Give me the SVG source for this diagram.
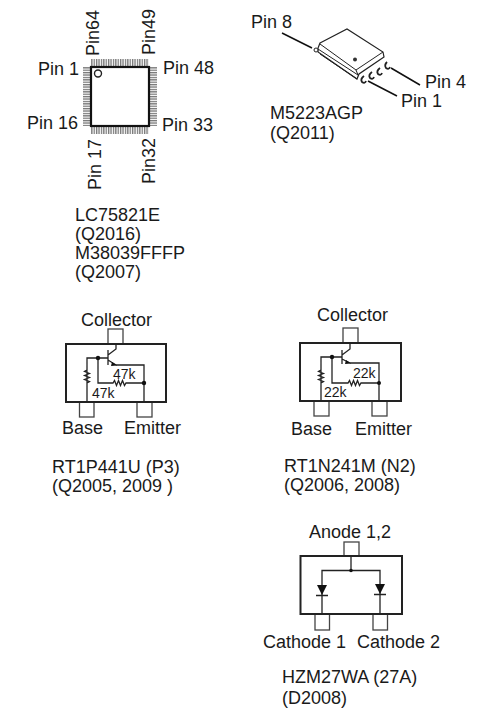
<svg xmlns="http://www.w3.org/2000/svg" width="493" height="711" viewBox="0 0 493 711">
<style>
text{font-family:"Liberation Sans",Arial,sans-serif;font-size:18px;fill:#1a1a1a}
.s{font-size:14px}
.b{fill:#fff;stroke:#222;stroke-width:2}
.p{fill:#fff;stroke:#444;stroke-width:1.3}
.w{fill:none;stroke:#222;stroke-width:1.3}
.d{fill:#111}
.l{fill:none;stroke:#111;stroke-width:1.5}
</style>
<defs>
<pattern id="pv" width="2.4" height="8" patternUnits="userSpaceOnUse"><rect width="1.3" height="8" fill="#777"/></pattern>
<pattern id="ph" width="8" height="2.4" patternUnits="userSpaceOnUse"><rect width="8" height="1.3" fill="#777"/></pattern>
</defs>
<g id="qfp">
<rect x="91" y="59" width="58" height="8" fill="url(#pv)"/>
<rect x="91" y="126" width="58" height="8" fill="url(#pv)"/>
<rect x="83" y="67" width="8" height="59" fill="url(#ph)"/>
<rect x="149" y="67" width="8" height="59" fill="url(#ph)"/>
<rect x="91" y="67" width="58" height="59" fill="#fff" stroke="#111" stroke-width="2.2"/>
<circle cx="98" cy="73.500" r="3.500" fill="#fff" stroke="#222" stroke-width="1.400"/>
<text x="38" y="75">Pin 1</text>
<text x="163" y="74">Pin 48</text>
<text x="27" y="129">Pin 16</text>
<text x="162" y="131">Pin 33</text>
<text transform="translate(99 56) rotate(-90)">Pin64</text>
<text transform="translate(155 55) rotate(-90)">Pin49</text>
<text transform="translate(101 190) rotate(-90)">Pin 17</text>
<text transform="translate(155 184) rotate(-90)">Pin32</text>
<text x="75" y="221">LC75821E</text>
<text x="75" y="240">(Q2016)</text>
<text x="75" y="259">M38039FFFP</text>
<text x="75" y="278">(Q2007)</text>
</g>
<g id="sop">
<path class="l" d="M282 33 L312 48M391 68 L420 85M368 81 L397 96"/>
<path d="M320 43 L347 29 L383 52 L384 57 L359 74 L357 79 L318 52 L318 48Z" fill="#fff" stroke="#222" stroke-width="1.200"/>
<path d="M320 44 L356 70 L383 52M356 70 L358 75M318 49 L358 75 M320 54 L357 79" fill="none" stroke="#222" stroke-width="1"/>
<circle cx="355" cy="59.500" r="2" fill="#333"/>
<circle cx="316" cy="50" r="2" fill="#fff" stroke="#222"/>
<path d="M364 76 Q360 79 362 82 Q365 84 366 81M372 72 Q368 75 370 78 Q373 80 374 77M380 68 Q376 71 378 74 Q381 76 382 73M387 62 Q384 65 386 68 Q389 70 390 67" fill="none" stroke="#222" stroke-width="1.800"/>
<text x="251" y="28">Pin 8</text>
<text x="425" y="88">Pin 4</text>
<text x="401" y="107">Pin 1</text>
<text x="270" y="119">M5223AGP</text>
<text x="270" y="139">(Q2011)</text>
</g>
<g id="rt1p">
<rect class="p" x="108" y="329" width="15" height="15"/>
<rect class="p" x="79.500" y="402" width="14.500" height="15"/>
<rect class="p" x="137" y="402" width="15" height="15"/>
<rect class="b" x="66" y="344" width="100" height="58"/>
<text x="81" y="326">Collector</text>
<text x="62" y="434">Base</text>
<text x="124" y="434">Emitter</text>
<text class="s" x="113" y="379">47k</text>
<text class="s" x="92" y="398">47k</text>
<text x="52" y="473">RT1P441U (P3)</text>
<text x="52" y="492">(Q2005, 2009 )</text>
</g>
<g id="rt1n">
<rect class="p" x="343" y="328" width="15" height="15"/>
<rect class="p" x="314" y="401" width="15" height="15"/>
<rect class="p" x="372" y="401" width="15" height="15"/>
<rect class="b" x="300" y="343" width="101" height="58"/>
<text x="317" y="321">Collector</text>
<text x="291" y="435">Base</text>
<text x="355" y="435">Emitter</text>
<text class="s" x="353" y="378">22k</text>
<text class="s" x="324" y="397">22k</text>
<text x="284" y="472">RT1N241M (N2)</text>
<text x="284" y="491">(Q2006, 2008)</text>
</g>
<g id="hzm">
<rect class="p" x="344" y="542" width="15" height="14"/>
<rect class="p" x="315" y="614" width="14.500" height="16"/>
<rect class="p" x="373" y="614" width="14.500" height="16"/>
<rect class="b" x="300.500" y="556" width="101.500" height="58"/>
<text x="309" y="538">Anode 1,2</text>
<text x="263" y="648">Cathode 1</text>
<text x="357" y="648">Cathode 2</text>
<text x="282" y="683">HZM27WA (27A)</text>
<text x="282" y="704">(D2008)</text>
</g>
<g id="connectors">
<path class="w" d="M116 344V349L108 355M108 350V365M108 360L116 365M87 402V358H108M87 358V370l-2.500 1.500 5 2-5 2 5 2-5 2 5 2-2.500 1.500V402M98 358V383H113l1.500-2.500 2 5 2-5 2 5 2-5 2 5 1.500-2.500H144M116 365H144V402"/>
<path class="d" d="M112 362l5 3.500-6 .5z"/>
<circle class="d" cx="98" cy="358" r="2.200"/>
<circle class="d" cx="144" cy="383" r="2.200"/>
<path class="w" d="M350 343V349L342 355M342 350V364M342 359L350 363M321 401V357H342M321 357V370l-2.500 1.500 5 2-5 2 5 2-5 2 5 2-2.500 1.500V401M332 357V383H348l1.500-2.500 2 5 2-5 2 5 2-5 2 5 1.500-2.500H379M350 363H379V401"/>
<path class="d" d="M346 360l5 3.500-6 .5z"/>
<circle class="d" cx="332" cy="357" r="2.200"/>
<circle class="d" cx="379" cy="383" r="2"/>
<path class="w" d="M351 556V570.500M322 614V570.500H380V614"/>
<circle class="d" cx="351" cy="570.500" r="1.800"/>
<path class="d" d="M317 585H327L322 595Z"/>
<path class="d" d="M375 584H385L380 594Z"/>
<path class="w" d="M316 595.500H328M374 594.500H386"/>
</g>
</svg>
